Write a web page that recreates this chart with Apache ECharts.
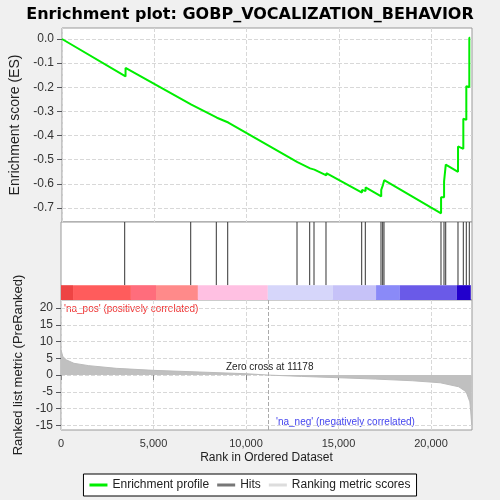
<!DOCTYPE html>
<html>
<head>
<meta charset="UTF-8">
<script src="https://cdn.jsdelivr.net/npm/echarts@6/dist/echarts.min.js"></script>
<style>html,body{margin:0;padding:0;background:#f0f0f0}#c{width:500px;height:500px}</style>
</head>
<body>
<div id="c"></div>
<script>
// hit ranks
var hitRanks = [3443, 7011, 8395, 9011, 12757, 13443, 13676, 14324, 16254, 16449,
  17297, 17389, 17459, 20540, 20703, 20795, 21459, 21746, 21908, 22070];
// running ES just before and just after each hit
var esBefore = [-0.155, -0.272, -0.326, -0.346, -0.51, -0.536, -0.541, -0.565, -0.636, -0.63,
  -0.652, -0.625, -0.605, -0.722, -0.655, -0.59, -0.55, -0.455, -0.335, -0.2];
var esAfter = [-0.12, -0.265, -0.32, -0.34, -0.505, -0.53, -0.535, -0.556, -0.625, -0.615,
  -0.625, -0.605, -0.585, -0.655, -0.59, -0.52, -0.445, -0.33, -0.195, 0.005];
// ranked metric samples
var metricRanks = [0, 100, 300, 700, 1500, 3000, 5000, 7500, 10000, 11178, 13000, 15000, 17000, 19000, 20500, 21500, 21900, 22100, 22150, 22200];
var metricVals = [7.5, 5.5, 4.5, 3.5, 2.8, 2.0, 1.4, 0.9, 0.4, 0, -0.4, -0.8, -1.2, -1.7, -2.3, -3.5, -5, -8, -11, -15];
// colour bar segments
var barEdges = [0, 650, 3780, 5135, 7400, 11180, 14700, 17030, 18320, 21400, 22150];
var barColors = ['#ee4444', '#ff5c5c', '#ff6d7c', '#ff8a8a', '#ffc0e2', '#d6d6fa', '#c6c2f8', '#8a8af8', '#6a5ae8', '#2200cc'];
var xMax = 22216;

var esLine = [[0, 0]];
hitRanks.forEach(function (r, i) { esLine.push([r, esBefore[i]], [r, esAfter[i]]); });
esLine.push([xMax - 100, esAfter[esAfter.length - 1]]);
var metric = metricRanks.map(function (r, i) { return [r, metricVals[i]]; });
var segs = barColors.map(function (c, i) { return [barEdges[i], barEdges[i + 1], c]; });

var chart = echarts.init(document.getElementById('c'));
var esTicks = [0, -0.1, -0.2, -0.3, -0.4, -0.5, -0.6, -0.7];
var mTicks = [-15, -10, -5, 0, 5, 10, 15, 20];
var xTicks = [0, 5000, 10000, 15000, 20000];
var split = {show: true, lineStyle: {color: '#d8d8d8', type: 'dashed'}};
function xa(idx, labels) {
  return {gridIndex: idx, type: 'value', min: 0, max: xMax, interval: 5000,
    axisLine: {show: false}, axisTick: {show: labels, customValues: xTicks, lineStyle: {color: '#888'}},
    axisLabel: {show: labels, customValues: xTicks, color: '#333', fontSize: 11, formatter: function (v) { return v.toLocaleString('en-US'); }},
    splitLine: idx === 1 ? {show: false} : split,
    name: labels ? 'Rank in Ordered Dataset' : '', nameLocation: 'middle', nameGap: 22,
    nameTextStyle: {fontSize: 12, color: '#222'}};
}
chart.setOption({
  backgroundColor: '#f0f0f0',
  animation: false,
  title: {text: 'Enrichment plot: GOBP_VOCALIZATION_BEHAVIOR', left: 'center', top: 2,
    textStyle: {fontSize: 16, fontWeight: 'bold', color: '#000', fontFamily: 'DejaVu Sans'}},
  legend: {bottom: 4, left: 'center', itemWidth: 18, itemHeight: 3, borderColor: '#000', borderWidth: 1,
    borderRadius: 0, padding: [5, 6], itemGap: 8, backgroundColor: '#fff', icon: 'rect',
    textStyle: {fontSize: 12, color: '#222'},
    data: ['Enrichment profile', 'Hits', 'Ranking metric scores']},
  grid: [
    {left: 61, width: 411, top: 28, height: 194, show: true, backgroundColor: '#fff', borderColor: '#999'},
    {left: 61, width: 411, top: 222, height: 78, show: true, backgroundColor: '#fff', borderColor: '#999'},
    {left: 61, width: 411, top: 300, height: 130, show: true, backgroundColor: '#fff', borderColor: '#999'}
  ],
  xAxis: [xa(0, false), xa(1, false), xa(2, true)],
  yAxis: [
    {gridIndex: 0, type: 'value', min: -0.758, max: 0.0456, axisLine: {show: false},
      axisTick: {show: true, customValues: esTicks}, splitLine: split,
      axisLabel: {customValues: esTicks, color: '#333', fontSize: 12, formatter: function (v) { return v.toFixed(1); }},
      name: 'Enrichment score (ES)', nameLocation: 'middle', nameGap: 40, nameTextStyle: {fontSize: 14, color: '#222'}},
    {gridIndex: 1, type: 'value', min: 0, max: 1, show: false},
    {gridIndex: 2, type: 'value', min: -16.4, max: 22.4, axisLine: {show: false},
      axisTick: {show: true, customValues: mTicks}, splitLine: split,
      axisLabel: {customValues: mTicks, color: '#333', fontSize: 12},
      name: 'Ranked list metric (PreRanked)', nameLocation: 'middle', nameGap: 36, nameTextStyle: {fontSize: 13, color: '#222'}}
  ],
  series: [
    {name: 'Enrichment profile', type: 'line', xAxisIndex: 0, yAxisIndex: 0, data: esLine, showSymbol: false,
      lineStyle: {color: '#00ee00', width: 2}, itemStyle: {color: '#00ee00'}},
    {name: 'Hits', type: 'custom', xAxisIndex: 1, yAxisIndex: 1, data: hitRanks.map(function (r) { return [r]; }),
      itemStyle: {color: '#777'},
      renderItem: function (p, api) {
        var a = api.coord([api.value(0), 1]), b = api.coord([api.value(0), 0.19]);
        return {type: 'line', shape: {x1: a[0], y1: a[1], x2: b[0], y2: b[1]}, style: {stroke: '#333', lineWidth: 1}};
      }},
    {name: 'bar', type: 'custom', xAxisIndex: 1, yAxisIndex: 1, data: segs, silent: true,
      renderItem: function (p, api) {
        var a = api.coord([api.value(0), 0.19]), b = api.coord([api.value(1), 0]);
        return {type: 'rect', shape: {x: a[0], y: a[1], width: b[0] - a[0], height: b[1] - a[1]}, style: {fill: segs[p.dataIndex][2]}};
      }},
    {name: 'Ranking metric scores', type: 'line', xAxisIndex: 2, yAxisIndex: 2, data: metric, showSymbol: false,
      lineStyle: {color: '#bbb', width: 1}, areaStyle: {color: '#c0c0c0', opacity: 1}, itemStyle: {color: '#ddd'},
      markLine: {silent: true, symbol: 'none', label: {show: false}, lineStyle: {color: '#aaa', type: 'dashed', width: 1},
        data: [{xAxis: 11178}]}}
  ],
  graphic: [
    {type: 'text', left: 64, top: 304, style: {text: "'na_pos' (positively correlated)", fill: '#ee3333', fontSize: 10}},
    {type: 'text', left: 276, top: 417, style: {text: "'na_neg' (negatively correlated)", fill: '#4444ee', fontSize: 10}},
    {type: 'text', left: 226, top: 362, style: {text: 'Zero cross at 11178', fill: '#222', fontSize: 10}}
  ]
});
</script>
</body>
</html>
